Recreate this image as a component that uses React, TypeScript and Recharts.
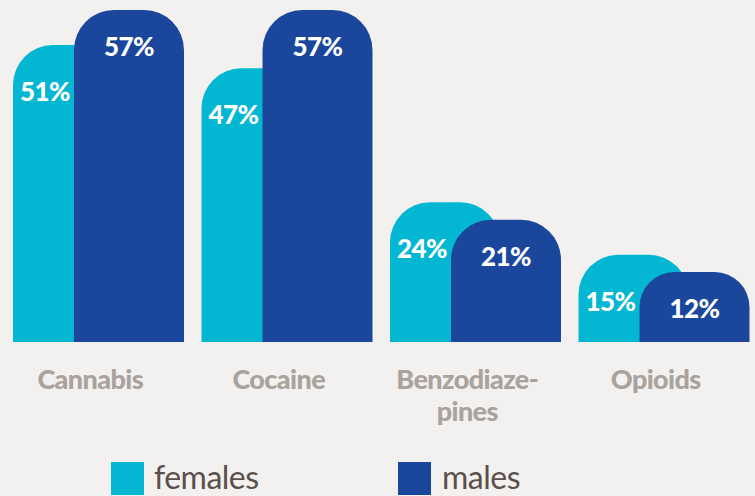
import React from 'react';
import { BarChart, Bar, XAxis, YAxis, LabelList } from 'recharts';

const categories = ['Cannabis', 'Cocaine', 'Benzodiaze-\npines', 'Opioids'];
const females = [51, 47, 24, 15];
const males = [57, 57, 21, 12];
const seriesNames = ['females', 'males'];

const FEMALE = '#03b6d2';
const MALE = '#1a479c';
const BG = '#f3f1ef';
const FONT = 'Lato, "Open Sans", sans-serif';

const data = categories.map((c, i) => ({ name: c, females: females[i], males: males[i] }));

const Tick = (props: any) => {
  const { x, y, payload } = props;
  const lines = String(payload.value).split('\n');
  const cx = x - 8;
  return (
    <text x={cx} y={y} textAnchor="middle" fill="#aaa29d" fontSize={27} fontWeight={900} fontFamily={FONT} letterSpacing={-0.6}>
      {lines.map((l, i) => (
        <tspan key={i} x={cx} dy={i === 0 ? 47 : 32}>{l}</tspan>
      ))}
    </text>
  );
};

const FemaleLabel = (props: any) => {
  const { x, y, value } = props;
  return (
    <text x={x + 32} y={y + 56} textAnchor="middle" fill="#ffffff" fontSize={26} fontWeight={900} fontFamily={FONT} letterSpacing={-0.6}>
      {value}%
    </text>
  );
};

const MaleLabel = (props: any) => {
  const { x, y, width, value } = props;
  return (
    <text x={x + width / 2} y={y + 46} textAnchor="middle" fill="#ffffff" fontSize={26} fontWeight={900} fontFamily={FONT} letterSpacing={-0.6}>
      {value}%
    </text>
  );
};

export default function App() {
  return (
    <div style={{ position: 'absolute', left: 0, top: 0, width: 755, height: 496, overflow: 'hidden', background: BG }}>
      <BarChart
        width={758}
        height={496}
        data={data}
        margin={{ top: 10, right: 0, left: 4, bottom: 0 }}
        barSize={110}
        barGap={-49}
      >
        <YAxis hide domain={[0, 57]} />
        <XAxis
          dataKey="name"
          axisLine={false}
          tickLine={false}
          tickSize={0}
          tickMargin={0}
          height={154}
          interval={0}
          tick={<Tick />}
        />
        <Bar dataKey="females" fill={FEMALE} radius={[40, 40, 0, 0]} isAnimationActive={false}>
          <LabelList dataKey="females" content={<FemaleLabel />} />
        </Bar>
        <Bar dataKey="males" fill={MALE} radius={[40, 40, 0, 0]} isAnimationActive={false}>
          <LabelList dataKey="males" content={<MaleLabel />} />
        </Bar>
      </BarChart>
      <div style={{ position: 'absolute', left: 111, top: 462, display: 'flex', alignItems: 'flex-start', fontFamily: FONT, fontSize: 32, color: '#5b4f4b' }}>
        <div style={{ width: 33, height: 33, background: FEMALE }} />
        <span style={{ marginLeft: 10, lineHeight: '30px', letterSpacing: -0.5 }}>{seriesNames[0]}</span>
      </div>
      <div style={{ position: 'absolute', left: 398, top: 462, display: 'flex', alignItems: 'flex-start', fontFamily: FONT, fontSize: 32, color: '#5b4f4b' }}>
        <div style={{ width: 33, height: 33, background: MALE }} />
        <span style={{ marginLeft: 11, lineHeight: '30px', letterSpacing: -0.5 }}>{seriesNames[1]}</span>
      </div>
    </div>
  );
}
